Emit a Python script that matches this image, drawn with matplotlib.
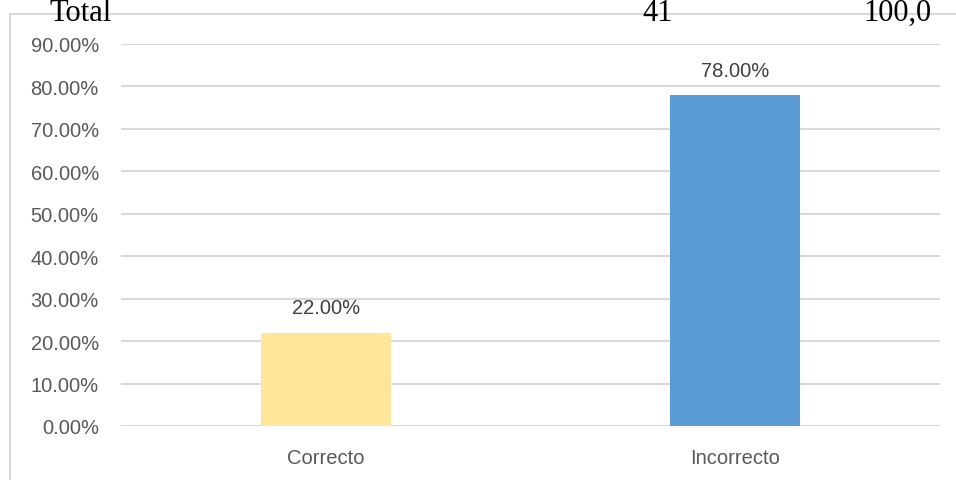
import matplotlib.pyplot as plt
from matplotlib.patches import Rectangle
from matplotlib.ticker import FuncFormatter

categorias = ['Correcto', 'Incorrecto']
porcentajes = [0.22, 0.78]
colores = ['#FFE699', '#5B9BD5']
fila_total = ['Total', '41', '100,0']

plt.rcParams['font.family'] = ['Liberation Sans', 'DejaVu Sans']

fig = plt.figure(figsize=(9.56, 4.81), dpi=100)
ax = fig.add_axes([121/956, 1 - 427/481, (940 - 121)/956, (427 - 45)/481])

# chart frame (the right and bottom edges fall outside the image)
fig.patches.append(Rectangle((10/956, -0.1), 1.2, 1 - 15/481 + 0.1,
                             transform=fig.transFigure, fill=False,
                             edgecolor='#d9d9d9', linewidth=1.5, zorder=0))

x = range(len(categorias))
bars = ax.bar(x, porcentajes, width=0.317, color=colores, zorder=3)
for b, v in zip(bars, porcentajes):
    ax.annotate(f'{v*100:.2f}%', (b.get_x() + b.get_width()/2, v),
                xytext=(0, 11), textcoords='offset points', ha='center', va='bottom',
                fontsize=14.5, color='#404040')

ax.set_xlim(-0.5, 1.5)
ax.set_ylim(0, 0.9)
ax.set_yticks([i/10 for i in range(10)])
ax.yaxis.set_major_formatter(FuncFormatter(lambda v, p: f'{v*100:.2f}%'))
ax.set_xticks(list(x))
ax.set_xticklabels(categorias)
ax.tick_params(length=0, labelsize=14.5, labelcolor='#595959')
ax.tick_params(axis='y', pad=16)
ax.tick_params(axis='x', pad=16)
ax.grid(axis='y', color='#d9d9d9', linewidth=1.5, zorder=0)
for s in ax.spines.values():
    s.set_visible(False)

# "Total" row from the table above, cut off by the image edge
kw = dict(fontsize=22, family=['Liberation Serif', 'DejaVu Serif'], color='black',
          va='baseline')
fig.text(50/956, 1 - 21/481, fila_total[0], ha='left', **kw)
fig.text(658/956, 1 - 21/481, fila_total[1], ha='center', **kw)
fig.text(931/956, 1 - 21/481, fila_total[2], ha='right', **kw)

fig.savefig('out.png', dpi=100)
